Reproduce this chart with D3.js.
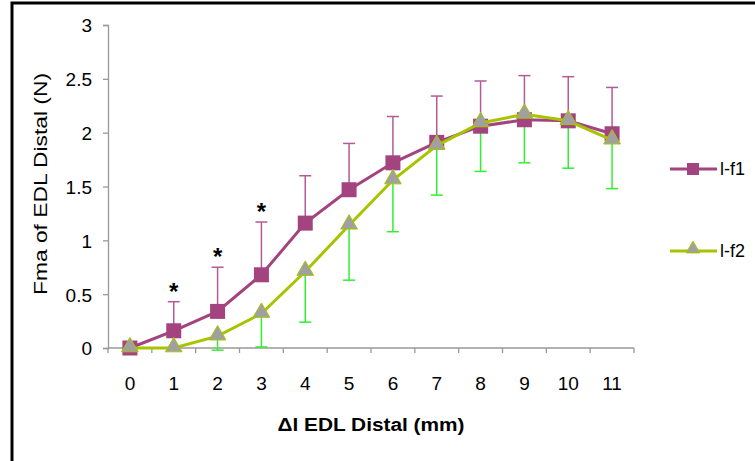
<!DOCTYPE html>
<html>
<head>
<meta charset="utf-8">
<script src="https://cdn.jsdelivr.net/npm/d3@7"></script>
<style>
  body { margin: 0; background: #fff; }
  text { font-family: "Liberation Sans", Arial, sans-serif; }
</style>
</head>
<body>
<div id="chart"></div>
<script>
// data
var categories = ["0", "1", "2", "3", "4", "5", "6", "7", "8", "9", "10", "11"];
var f1Values = [0, 0.16, 0.34, 0.68, 1.16, 1.47, 1.72, 1.91, 2.06, 2.12, 2.11, 1.99];
var f1Upper  = [0, 0.43, 0.75, 1.17, 1.60, 1.90, 2.15, 2.34, 2.48, 2.53, 2.52, 2.42];
var f2Values = [0, 0, 0.11, 0.32, 0.71, 1.14, 1.56, 1.88, 2.09, 2.17, 2.11, 1.93];
var f2Lower  = [0, 0, -0.02, 0.01, 0.24, 0.63, 1.08, 1.42, 1.64, 1.72, 1.67, 1.48];
var starAt = ["1", "2", "3"];
var yTicks = [0, 0.5, 1, 1.5, 2, 2.5, 3];
var seriesNames = ["l-f1", "l-f2"];

var width = 755, height = 461;

var svg = d3.select("#chart").append("svg")
  .attr("width", width)
  .attr("height", height);

// frame
svg.append("rect")
  .attr("x", 12)
  .attr("y", 3)
  .attr("width", 760)
  .attr("height", 470)
  .attr("fill", "none")
  .attr("stroke", "#000")
  .attr("stroke-width", 3);

var x = d3.scaleBand()
  .domain(categories)
  .range([108, 634])
  .padding(0);

var y = d3.scaleLinear()
  .domain([0, 3])
  .range([348, 25]);

var cx = function (c) { return x(c) + x.bandwidth() / 2; };

// y axis
var yAxis = d3.axisLeft(y)
  .tickValues(yTicks)
  .tickSize(5)
  .tickPadding(11)
  .tickFormat(function (d) { return d; });

var gy = svg.append("g")
  .attr("transform", "translate(108,0)")
  .call(yAxis);
gy.select(".domain").attr("stroke", "#999").attr("stroke-width", 1.3);
gy.selectAll(".tick line").attr("stroke", "#999").attr("stroke-width", 1.3);
gy.selectAll(".tick text")
  .attr("fill", "#000")
  .attr("dy", "0.36em")
  .style("font-size", "19px")
  .style("font-family", "'Liberation Sans', Arial, sans-serif");

// x axis (ticks between categories)
var gx = svg.append("g");
gx.append("line")
  .attr("x1", 108).attr("x2", 634)
  .attr("y1", y(0)).attr("y2", y(0))
  .attr("stroke", "#999").attr("stroke-width", 1.3);
gx.selectAll(".xtick")
  .data(categories.concat(["end"]))
  .enter().append("line")
  .attr("class", "xtick")
  .attr("x1", function (d, i) { return i < categories.length ? x(d) : x.range()[1]; })
  .attr("x2", function (d, i) { return i < categories.length ? x(d) : x.range()[1]; })
  .attr("y1", y(0)).attr("y2", y(0) + 5)
  .attr("stroke", "#999").attr("stroke-width", 1.3);
gx.selectAll(".xlabel")
  .data(categories)
  .enter().append("text")
  .attr("class", "xlabel")
  .attr("x", cx)
  .attr("y", 390)
  .attr("text-anchor", "middle")
  .style("font-size", "19px")
  .text(function (d) { return d; });

// axis titles
svg.append("text")
  .attr("transform", "translate(47,184) rotate(-90)")
  .attr("text-anchor", "middle")
  .attr("textLength", 222)
  .attr("lengthAdjust", "spacingAndGlyphs")
  .style("font-size", "18px")
  .text("Fma of EDL Distal (N)");

svg.append("text")
  .attr("x", 371)
  .attr("y", 431)
  .attr("text-anchor", "middle")
  .attr("textLength", 187)
  .attr("lengthAdjust", "spacingAndGlyphs")
  .style("font-size", "18px")
  .style("font-weight", "bold")
  .text("\u0394l EDL Distal (mm)");

var purple = "#a3437f", purpleBar = "#b45a96";
var lime = "#a8c400", green = "#33ee33", grey = "#a0a0a0";
var cap = 6;

// error bars f1 (upward)
var e1 = svg.append("g");
categories.forEach(function (c, i) {
  if (f1Upper[i] <= f1Values[i]) return;
  e1.append("line")
    .attr("x1", cx(c)).attr("x2", cx(c))
    .attr("y1", y(f1Values[i])).attr("y2", y(f1Upper[i]))
    .attr("stroke", purpleBar).attr("stroke-width", 1.5);
  e1.append("line")
    .attr("x1", cx(c) - cap).attr("x2", cx(c) + cap)
    .attr("y1", y(f1Upper[i])).attr("y2", y(f1Upper[i]))
    .attr("stroke", purpleBar).attr("stroke-width", 1.5);
});

// error bars f2 (downward)
var e2 = svg.append("g");
categories.forEach(function (c, i) {
  if (f2Lower[i] >= f2Values[i]) return;
  e2.append("line")
    .attr("x1", cx(c)).attr("x2", cx(c))
    .attr("y1", y(f2Values[i])).attr("y2", y(f2Lower[i]))
    .attr("stroke", green).attr("stroke-width", 1.5);
  e2.append("line")
    .attr("x1", cx(c) - cap).attr("x2", cx(c) + cap)
    .attr("y1", y(f2Lower[i])).attr("y2", y(f2Lower[i]))
    .attr("stroke", green).attr("stroke-width", 1.5);
});

// asterisks
svg.selectAll(".star")
  .data(starAt)
  .enter().append("text")
  .attr("class", "star")
  .attr("x", function (d) { return cx(d); })
  .attr("y", function (d) { return y(f1Upper[categories.indexOf(d)]) - 2; })
  .attr("text-anchor", "middle")
  .style("font-size", "24px")
  .style("font-weight", "bold")
  .text("*");

var line = d3.line()
  .x(function (d, i) { return cx(categories[i]); })
  .y(function (d) { return y(d); });

// series f1
svg.append("path")
  .datum(f1Values)
  .attr("d", line)
  .attr("fill", "none")
  .attr("stroke", purple)
  .attr("stroke-width", 3);

svg.selectAll(".sq")
  .data(f1Values)
  .enter().append("rect")
  .attr("class", "sq")
  .attr("x", function (d, i) { return cx(categories[i]) - 7.5; })
  .attr("y", function (d) { return y(d) - 7.5; })
  .attr("width", 15)
  .attr("height", 15)
  .attr("fill", purple);

// series f2
svg.append("path")
  .datum(f2Values)
  .attr("d", line)
  .attr("fill", "none")
  .attr("stroke", lime)
  .attr("stroke-width", 3);

var tri = d3.symbol().type(d3.symbolTriangle).size(120);
svg.selectAll(".tri")
  .data(f2Values)
  .enter().append("path")
  .attr("class", "tri")
  .attr("d", tri)
  .attr("transform", function (d, i) { return "translate(" + cx(categories[i]) + "," + (y(d) - 1) + ")"; })
  .attr("fill", grey)
  .attr("stroke", lime)
  .attr("stroke-width", 1);

// legend
var legend = svg.selectAll(".legend")
  .data(seriesNames)
  .enter().append("g")
  .attr("class", "legend")
  .attr("transform", function (d, i) { return "translate(670," + (169 + i * 82) + ")"; });

legend.append("line")
  .attr("x1", 0).attr("x2", 47)
  .attr("stroke", function (d, i) { return i === 0 ? purple : lime; })
  .attr("stroke-width", 3);

legend.each(function (d, i) {
  var g = d3.select(this);
  if (i === 0) {
    g.append("rect")
      .attr("x", 17).attr("y", -6)
      .attr("width", 12).attr("height", 12)
      .attr("fill", purple);
  } else {
    g.append("path")
      .attr("d", d3.symbol().type(d3.symbolTriangle).size(80))
      .attr("transform", "translate(23,-2)")
      .attr("fill", grey)
      .attr("stroke", lime);
  }
});

legend.append("text")
  .attr("x", 50)
  .attr("y", 6)
  .style("font-size", "18px")
  .text(function (d) { return d; });
</script>
</body>
</html>
